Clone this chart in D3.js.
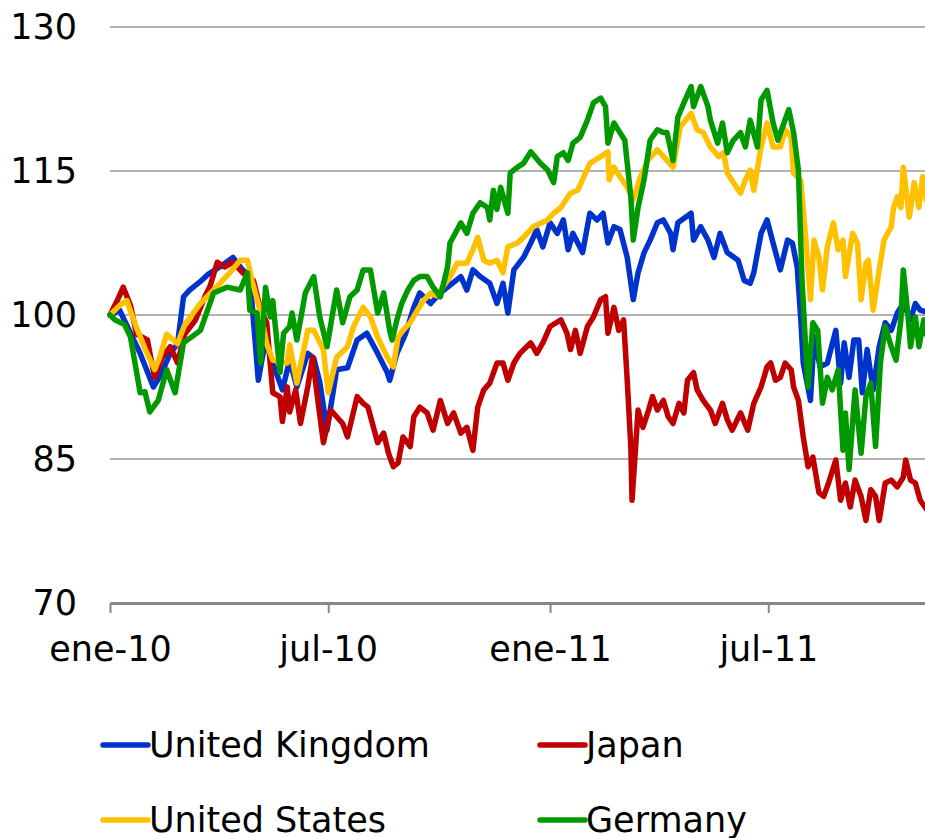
<!DOCTYPE html>
<html>
<head>
<meta charset="utf-8">
<script src="https://cdn.jsdelivr.net/npm/d3@7"></script>
<style>
  body { margin: 0; background: #fff; }
  text { font-family: "DejaVu Sans", sans-serif; fill: #000; }
</style>
</head>
<body>
<div id="viz"></div>
<script>
// Index levels (base 100 = start of 2010). Each point: [calendar day since 1 Jan 2010, value]
const startDate = new Date(2010, 0, 1);
const endDate = new Date(2011, 10, 8);

const ukData = [[0,100],[8,100.5],[25,96],[36,92.5],[41,93.5],[50,96],[56,97],[61,101.9],[66,102.6],[75,103.5],[81,104.2],[91,105],[102,106],[110,104.7],[116,104],[123,93.2],[129,97.4],[135,95],[143,92.2],[149,95.3],[155,92.5],[164,96],[169,95.5],[174,93],[180,88],[188,94.3],[197,94.5],[205,97.4],[213,98.1],[222,96],[230,94],[232,93.2],[238,96],[245,98],[252,100.8],[257,102.3],[266,101.2],[274,102.3],[280,102.9],[291,104],[296,102.6],[301,104.7],[307,104],[315,103.3],[321,101.2],[326,103.3],[330,100.2],[335,104.7],[343,106],[349,107.5],[354,108.9],[359,107.1],[365,109.6],[371,108.5],[376,109.9],[380,106.8],[384,108.5],[392,106.5],[398,110.6],[404,109.9],[409,110.6],[413,107.5],[418,109.2],[423,108.9],[429,106],[434,101.6],[438,104.4],[443,106.5],[448,107.8],[454,109.6],[459,109.9],[465,108.5],[467,106.8],[471,109.6],[482,110.6],[484,107.8],[490,109.2],[496,107.8],[501,106],[506,108.5],[512,106.5],[521,105.7],[526,103.6],[531,103.3],[534,104.4],[540,108.5],[545,109.9],[550,107.5],[556,104.7],[562,107.8],[566,107.5],[570,105],[573,99.5],[575,95],[581,91.1],[584,97.7],[589,94.6],[595,95],[602,98.4],[606,92.9],[609,97.1],[613,93.5],[617,97.4],[621,97.4],[624,91.9],[628,96.4],[633,92.2],[638,96.7],[643,99.2],[648,98.4],[653,100.2],[658,101.2],[664,99.5],[668,101.2],[672,100.5],[677,100.3]];

const japanData = [[0,100],[6,101.5],[11,102.9],[17,101],[22,98],[31,97.4],[37,93.5],[43,95.5],[50,96.7],[56,95],[62,98],[71,99.5],[79,102],[83,103],[89,105.5],[95,105],[102,105.5],[110,104.4],[119,103.6],[125,100.5],[130,99.2],[135,91.9],[141,91.5],[143,88.9],[147,92.5],[149,89.9],[154,92.2],[158,88.7],[164,92.5],[168,95.6],[172,91.5],[177,86.7],[183,90.1],[188,89.4],[193,88.7],[197,87.3],[205,91.5],[210,90.8],[214,90.4],[222,86.7],[227,87.7],[231,85.6],[235,84.2],[239,84.6],[243,87.3],[249,86.3],[252,89.4],[257,90.4],[263,89.8],[268,88],[274,91.1],[280,88.7],[285,89.8],[291,87.7],[296,88.3],[301,85.9],[305,90.4],[310,92.2],[315,92.9],[321,95],[326,95],[330,93.2],[335,95],[340,96],[349,97.1],[354,96],[359,97.1],[365,98.8],[374,99.5],[379,98.1],[382,96.4],[386,98.4],[390,96],[396,98.8],[401,99.8],[407,101.6],[411,101.9],[413,98.1],[418,100.8],[422,98.4],[426,99.5],[429,93.2],[432,86.3],[433,80.7],[436,86.3],[438,90.1],[442,88.3],[446,89.8],[450,91.5],[454,90.1],[459,91.1],[463,89.4],[467,88.7],[472,90.8],[476,89.8],[479,93.2],[484,94],[487,92.2],[492,91.1],[498,90.1],[502,88.7],[508,90.8],[512,89.1],[516,88],[523,89.8],[529,88],[534,90.8],[540,92.5],[545,94.6],[548,95],[552,93.2],[556,93.5],[560,95],[565,94.3],[567,92.5],[571,91.1],[575,87.3],[579,84.2],[583,85.2],[588,81.5],[592,81.1],[596,82.5],[602,84.9],[606,80.7],[610,82.5],[614,80],[618,82.8],[623,81.1],[627,78.6],[631,81.8],[635,81.1],[638,78.6],[643,82.5],[648,82.8],[653,82.1],[658,83.1],[660,84.9],[664,82.8],[668,82.5],[672,80.7],[677,79.8]];

const usData = [[0,100],[8,101],[14,101.5],[21,99],[29,96.5],[37,94.3],[41,95.5],[47,98],[56,97],[62,99],[75,101.2],[89,103],[100,104.5],[108,105.7],[114,105.7],[118,103.5],[125,100.2],[130,97],[135,95.3],[147,95],[149,96.9],[155,92.9],[164,98.4],[169,98.4],[177,96.4],[181,91.9],[188,95.6],[197,96.7],[202,98.8],[210,100.8],[216,99.8],[222,97.7],[230,95.6],[235,94.6],[239,97.7],[243,98.4],[249,99.2],[255,100.5],[260,101.5],[266,102.3],[271,102],[276,102.9],[282,104],[288,105.4],[296,105.4],[301,106.8],[305,108.1],[310,105.7],[315,105.4],[321,105.7],[326,104.4],[330,107.1],[338,107.5],[343,108.1],[349,108.9],[351,109.2],[363,109.9],[368,110.6],[374,111.2],[382,112.7],[388,113],[393,114.4],[398,115.8],[407,116.5],[413,117],[414,114.1],[418,115.4],[423,114.4],[429,113.3],[434,112],[440,114.4],[446,116.1],[454,117.2],[462,116.1],[467,115.4],[473,119.6],[482,121],[487,119.3],[492,119],[498,117.5],[505,116.5],[509,116.9],[512,114.8],[517,113.8],[523,112.7],[527,114.1],[531,115.1],[534,113],[540,117.5],[545,120],[550,117.5],[556,117.5],[560,119.3],[565,118.5],[567,114.8],[573,114],[577,108.1],[581,101.6],[584,107.8],[588,106],[591,102.6],[595,107.1],[600,109.6],[604,106.8],[608,107.8],[610,104],[616,108.5],[620,107.5],[623,101.6],[627,105.4],[629,105.7],[633,100.5],[638,104.7],[642,107.8],[648,109.2],[650,111.2],[653,112.3],[656,111.2],[658,115.4],[663,110.2],[667,113.8],[671,111.2],[674,114.4],[677,112]];

const germanyData = [[0,100],[4,99.5],[12,99],[17,97.7],[25,91.9],[29,92],[33,89.9],[40,91.1],[47,94.3],[54,91.9],[61,97.1],[75,98.4],[86,102.3],[97,102.9],[108,102.6],[114,104.4],[116,100.5],[122,100.2],[125,95],[129,102.9],[133,99.8],[135,101.5],[141,94],[144,98.1],[149,98.8],[151,100.2],[155,97.4],[162,102.3],[169,104],[174,99.8],[180,96.7],[188,102.6],[193,99.2],[199,101.9],[205,102.6],[210,104.7],[216,104.7],[222,100.2],[227,102.3],[232,98.4],[234,97.4],[238,99.5],[242,101.2],[247,102.6],[252,103.6],[257,104],[263,104],[268,102.9],[274,101.9],[280,105],[282,107.5],[291,109.6],[296,108.5],[301,110.6],[307,111.7],[313,111.2],[315,109.9],[318,113],[321,111],[324,113.3],[330,110.6],[332,114.8],[338,115.4],[343,115.8],[349,117],[357,115.8],[363,115.1],[368,113.8],[371,116.5],[376,116.9],[380,116.1],[384,117.9],[390,118.5],[396,120.3],[401,122.1],[407,122.6],[411,121.7],[413,117.9],[418,120],[423,119],[427,118.2],[432,112.3],[434,107.8],[438,111.2],[443,114.1],[448,118.2],[454,119.3],[459,119],[462,119],[467,116.1],[471,120.6],[476,122.1],[482,123.8],[484,121.7],[490,123.8],[496,121.7],[498,120.3],[504,117.9],[508,120],[512,116.9],[517,118.2],[523,119],[527,117.5],[531,120.3],[537,117.5],[540,122.4],[545,123.4],[550,120],[554,118.2],[559,120],[563,121.4],[567,119],[571,115.1],[574,103.6],[577,96.7],[579,92.5],[583,99.2],[587,98.4],[591,90.8],[595,93.5],[599,92.2],[604,94.3],[608,85.9],[610,89.8],[613,83.9],[618,92.2],[623,85.6],[627,91.5],[631,92.9],[635,86.3],[639,95],[643,98.8],[648,96.7],[652,95.3],[656,99.5],[658,104.7],[662,99.8],[664,96.7],[668,99.8],[671,96.7],[675,99.5],[677,98]];

const seriesNames = ['United Kingdom', 'Japan', 'United States', 'Germany'];
const seriesColors = ['#0033cc', '#c00000', '#ffc000', '#009900'];
const seriesData = [ukData, japanData, usData, germanyData];

const yTicks = [70, 85, 100, 115, 130];
const xTickDates = [new Date(2010, 0, 1), new Date(2010, 6, 1), new Date(2011, 0, 1), new Date(2011, 6, 1)];
const xTickLabels = ['ene-10', 'jul-10', 'ene-11', 'jul-11'];

const width = 925, height = 838;
const margin = { top: 27, right: 0, bottom: 235, left: 110 };
const plotW = width - margin.left - margin.right;
const plotH = height - margin.top - margin.bottom;
const fontSize = '35px';

const svg = d3.select('#viz')
    .append('svg')
    .attr('width', width)
    .attr('height', height);

const g = svg.append('g')
    .attr('transform', `translate(${margin.left},${margin.top})`);

const xScale = d3.scaleTime()
    .domain([startDate, endDate])
    .range([0, plotW]);

const yScale = d3.scaleLinear()
    .domain([70, 130])
    .range([plotH, 0]);

const toDate = day => d3.timeDay.offset(startDate, day);

// gridlines
g.selectAll('.grid')
    .data(yTicks.filter(d => d !== 70))
    .enter()
    .append('line')
    .attr('class', 'grid')
    .attr('x1', 0)
    .attr('x2', plotW)
    .attr('y1', d => yScale(d))
    .attr('y2', d => yScale(d))
    .attr('stroke', '#999')
    .attr('stroke-width', 1.5);

// y labels
g.selectAll('.ylab')
    .data(yTicks)
    .enter()
    .append('text')
    .attr('class', 'ylab')
    .attr('x', -33)
    .attr('y', d => yScale(d))
    .attr('dy', '0.35em')
    .attr('text-anchor', 'end')
    .style('font-size', fontSize)
    .text(d => d);

// x axis
const xAxis = g.append('g')
    .attr('transform', `translate(0,${plotH})`)
    .call(d3.axisBottom(xScale)
        .tickValues(xTickDates)
        .tickSize(10)
        .tickSizeOuter(0)
        .tickFormat((d, i) => xTickLabels[i]));

xAxis.select('.domain').attr('stroke', '#888').attr('stroke-width', 3);
xAxis.selectAll('.tick line').attr('stroke', '#888').attr('stroke-width', 2);
xAxis.selectAll('.tick text')
    .attr('y', 33)
    .attr('dy', '0.71em')
    .style('font-size', fontSize)
    .style('font-family', '"DejaVu Sans", sans-serif')
    .attr('fill', '#000');

// lines
const line = d3.line()
    .x(d => xScale(toDate(d[0])))
    .y(d => yScale(d[1]));

seriesData.forEach((data, i) => {
    g.append('path')
        .datum(data)
        .attr('fill', 'none')
        .attr('stroke', seriesColors[i])
        .attr('stroke-width', 5.5)
        .attr('stroke-linejoin', 'round')
        .attr('stroke-linecap', 'round')
        .attr('d', line);
});

// legend
const legend = svg.append('g');
const legendPos = [[103, 745], [540, 745], [103, 820], [540, 820]];
seriesNames.forEach((name, i) => {
    const item = legend.append('g')
        .attr('transform', `translate(${legendPos[i][0]},${legendPos[i][1]})`);
    item.append('line')
        .attr('x1', 0).attr('x2', 45)
        .attr('y1', 0).attr('y2', 0)
        .attr('stroke', seriesColors[i])
        .attr('stroke-width', 5.5)
        .attr('stroke-linecap', 'round');
    item.append('text')
        .attr('x', 46)
        .attr('y', 0)
        .attr('dy', '0.35em')
        .style('font-size', fontSize)
        .text(name);
});
</script>
</body>
</html>
